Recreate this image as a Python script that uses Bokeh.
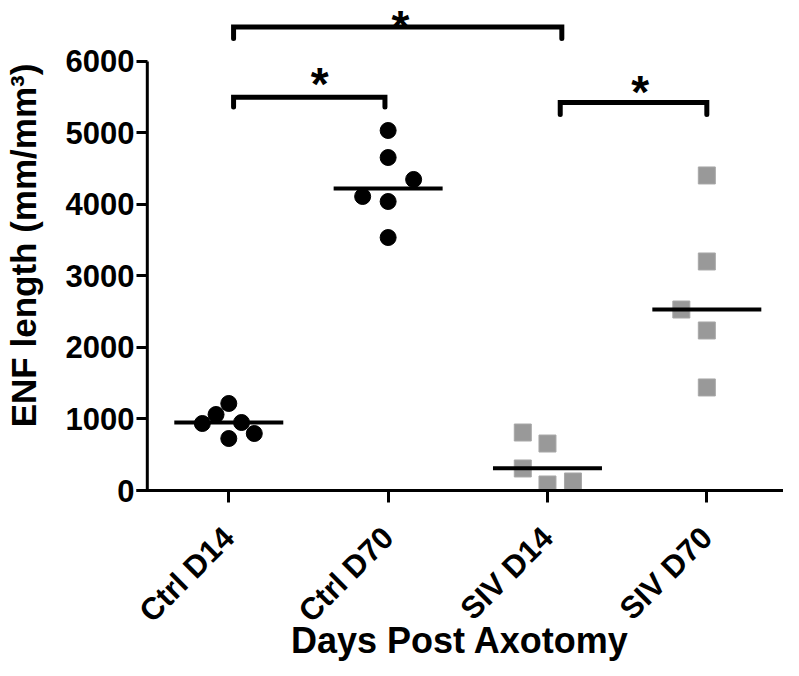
import math
from bokeh.plotting import figure
from bokeh.models import Range1d, FixedTicker
from bokeh.core.properties import value
from bokeh.embed import file_html
from bokeh.resources import INLINE

# ---------------- data ----------------
categories = ["Ctrl D14", "Ctrl D70", "SIV D14", "SIV D70"]
ctrl_d14 = [1217, 1063, 937, 951, 727, 797]
ctrl_d70 = [5035, 4657, 4350, 4112, 4042, 3538]
siv_d14 = [811, 657, 308, 84, 126]
siv_d70 = [4406, 3203, 2531, 2238, 1441]
group_means = [950, 4225, 310, 2530]
y_ticks = [0, 1000, 2000, 3000, 4000, 5000, 6000]
# significance comparisons: (group a, group b)
comparisons = [(0, 2), (0, 1), (2, 3)]
significance = ["*", "*", "*"]

# ---------------- layout / style (not data) ----------------
jitter = {
    0: [0.0, -0.08, -0.166, 0.08, 0.0, 0.16],
    1: [0.0, 0.0, 0.16, -0.16, 0.0, 0.0],
    2: [-0.155, 0.0, -0.155, 0.0, 0.16],
    3: [0.0, 0.0, -0.16, 0.0, 0.0],
}
bracket_x_pad = [(0.03, 0.09), (0.03, -0.02), (0.08, 0.0)]
bracket_top = [6483, 5500, 5427]
bracket_bottom = [6322, 5364, 5259]
star_dx = [0.078, 0.07, 0.082]
star_y = [6575, 5790, 5665]

FONT = "Liberation Sans"
GRAY = "#999999"

p = figure(width=783, height=668,
           x_range=Range1d(-0.5792, 3.4812), y_range=Range1d(0, 6853),
           output_backend="svg", toolbar_location=None,
           min_border_left=124, min_border_right=0,
           min_border_top=0, min_border_bottom=178)
p.outline_line_color = None
p.xgrid.visible = False
p.ygrid.visible = False
p.background_fill_color = "white"
p.border_fill_color = "white"

# y axis: ticks drawn inward from frame edge, axis line drawn as a segment
ya = p.yaxis[0]
ya.ticker = FixedTicker(ticks=y_ticks)
ya.axis_line_color = None
ya.major_tick_in = 11
ya.major_tick_out = 0
ya.major_tick_line_width = 3
ya.major_tick_line_color = "black"
ya.minor_tick_line_color = None
ya.major_label_text_font = FONT
ya.major_label_text_font_style = "bold"
ya.major_label_text_font_size = "31px"
ya.major_label_text_color = "black"
ya.major_label_standoff = 2
ya.axis_label = "ENF length (mm/mm\u00b3)"
ya.axis_label_text_font = FONT
ya.axis_label_text_font_style = "bold"
ya.axis_label_text_font_size = "35px"
ya.axis_label_text_color = "black"
ya.axis_label_standoff = 20

y_axis_x = -0.5114
p.segment(x0=[y_axis_x], y0=[y_ticks[0]], x1=[y_axis_x], y1=[y_ticks[-1]],
          line_width=3, line_color="black")

# x axis
xa = p.xaxis[0]
xa.ticker = FixedTicker(ticks=list(range(len(categories))))
xa.major_label_overrides = {i: c for i, c in enumerate(categories)}
xa.axis_line_width = 3
xa.axis_line_color = "black"
xa.major_tick_in = 0
xa.major_tick_out = 12
xa.major_tick_line_width = 3
xa.major_tick_line_color = "black"
xa.minor_tick_line_color = None
xa.major_label_orientation = math.pi / 4
xa.major_label_text_font = FONT
xa.major_label_text_font_style = "bold"
xa.major_label_text_font_size = "31px"
xa.major_label_text_color = "black"
xa.major_label_standoff = 30
xa.axis_label = "Days Post Axotomy"
xa.axis_label_text_font = FONT
xa.axis_label_text_font_style = "bold"
xa.axis_label_text_font_size = "36px"
xa.axis_label_text_color = "black"
xa.axis_label_standoff = -24

# points
groups = [ctrl_d14, ctrl_d70, siv_d14, siv_d70]
for gi in (2, 3):
    vals = groups[gi]
    xs = [gi + j for j in jitter[gi]]
    p.scatter(xs, vals, marker="square", size=17, fill_color=GRAY,
              line_color="#a8a8a8", line_width=1)

# mean lines
half = 0.342
p.segment(x0=[i - half for i in range(len(group_means))], y0=group_means,
          x1=[i + half for i in range(len(group_means))], y1=group_means,
          line_width=4, line_color="black")

for gi in (0, 1):
    vals = groups[gi]
    xs = [gi + j for j in jitter[gi]]
    p.scatter(xs, vals, marker="circle", size=16, fill_color="black",
              line_color="black")

# significance brackets
bxs, bys = [], []
for (a, b), (pa, pb), top, bot in zip(comparisons, bracket_x_pad, bracket_top, bracket_bottom):
    x0, x1 = a + pa, b + pb
    bxs.append([x0, x0, x1, x1])
    bys.append([bot, top, top, bot])
p.multi_line(bxs, bys, line_width=5, line_color="black",
             line_cap="round", line_join="miter")

sx = [(a + b) / 2 + d for (a, b), d in zip(comparisons, star_dx)]
fs = 46
p.text(x=sx, y=star_y, text=significance, text_font=value(FONT),
       text_font_style="bold", text_font_size=f"{fs}px",
       text_align="center", text_baseline="alphabetic",
       y_offset=round(0.155 * fs), text_color="black")

open("out.html", "w").write(file_html(p, INLINE))
